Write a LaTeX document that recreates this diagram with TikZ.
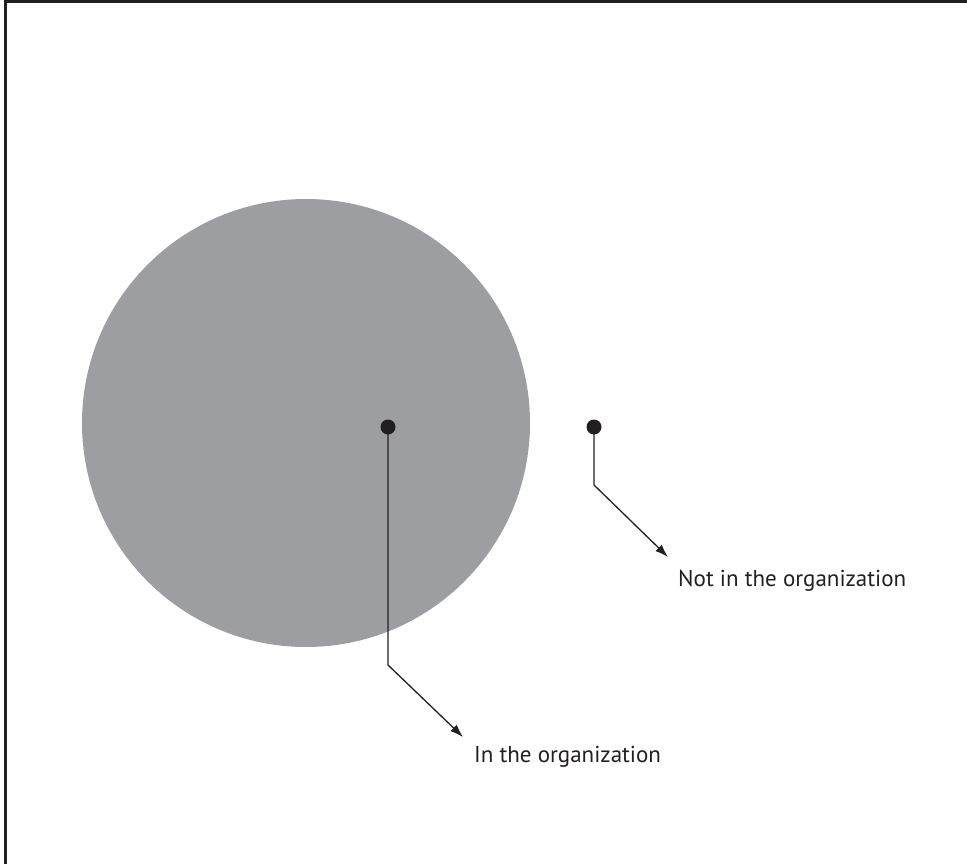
\documentclass[tikz,border=0pt]{standalone}
\usepackage{fontspec}
\setmainfont{PT Sans}
\usetikzlibrary{arrows.meta}
\definecolor{orgGray}{HTML}{9D9EA2}
\definecolor{inkDark}{HTML}{231F20}
\begin{document}
\begin{tikzpicture}[x=1pt,y=-1pt,
  dotnode/.style={circle,fill=inkDark,inner sep=0pt,minimum size=15pt},
  labeltext/.style={inner sep=0pt,anchor=base west,text=inkDark,font=\fontsize{23}{27}\selectfont},
  pointer/.style={draw=inkDark,line width=1.3pt,-{Latex[length=13pt,width=9pt]}}]
\useasboundingbox (0,0) rectangle (967,864);
% frame (top and left edges visible)
\draw[inkDark,line width=3pt] (5,864) -- (5,2) -- (967,2);
% organization circle
\fill[orgGray] (306,423) circle (224);
% dots
\node[dotnode] (inside) at (388,427) {};
\node[dotnode] (outside) at (594,427) {};
% corner and tip coordinates
\coordinate (inCorner) at (388,665);
\coordinate (inTip) at (463,737);
\coordinate (outCorner) at (594,485);
\coordinate (outTip) at (668,557);
% labels
\node[labeltext] (inLabel) at (474,762) {In the organization};
\node[labeltext] (outLabel) at (678,586) {Not in the organization};
% connectors
\draw[pointer] (inside.center) -- (inCorner) -- (inTip);
\draw[pointer] (outside.center) -- (outCorner) -- (outTip);
\end{tikzpicture}
\end{document}
